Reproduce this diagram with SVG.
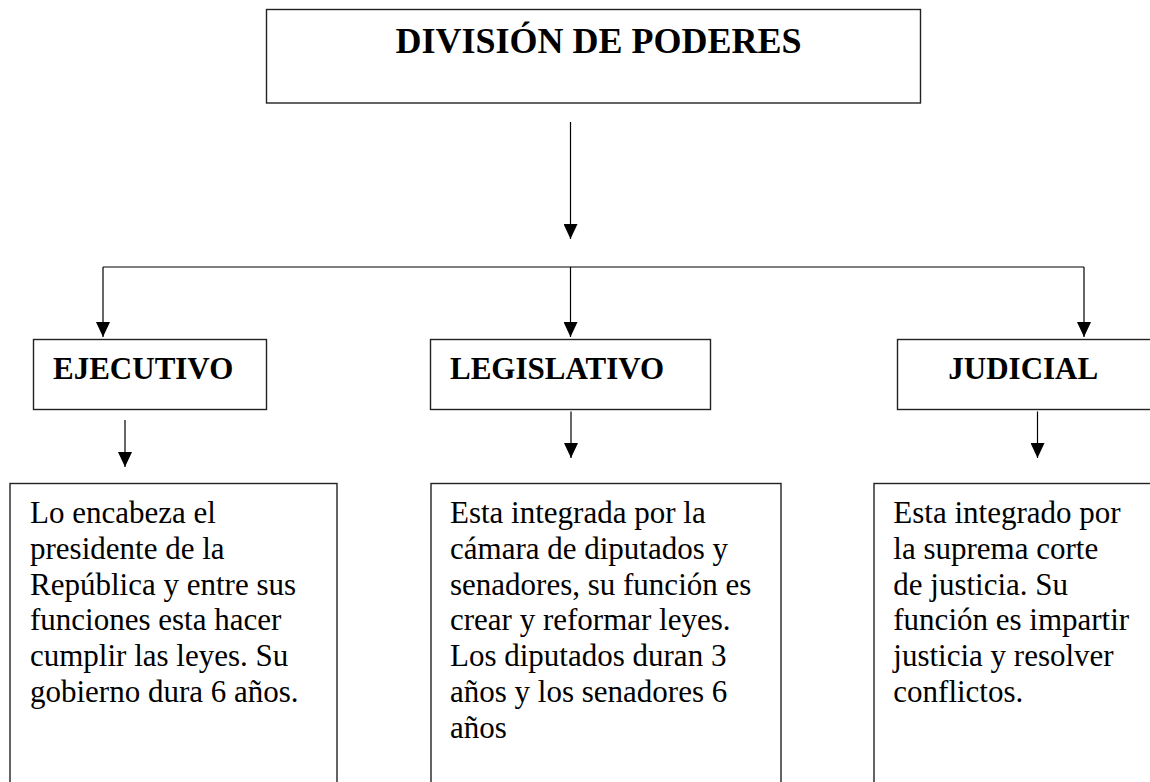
<svg xmlns="http://www.w3.org/2000/svg" width="1150" height="782" viewBox="0 0 1150 782">
  <style>
    .box { fill: #ffffff; stroke: #222222; stroke-width: 1.4; }
    .conn { stroke: #000000; stroke-width: 1.2; fill: none; }
    .title { font-family: "Liberation Serif", "Times New Roman", serif; font-weight: bold; font-size: 36px; fill: #000; }
    .label { font-family: "Liberation Serif", "Times New Roman", serif; font-weight: bold; font-size: 31px; fill: #000; }
    .body { font-family: "Liberation Serif", "Times New Roman", serif; font-size: 31px; fill: #000; }
  </style>
  <defs>
    <marker id="arrow" markerUnits="userSpaceOnUse" markerWidth="15" markerHeight="14" refX="15" refY="7" orient="auto">
      <path d="M0,0 L15,7 L0,14 z" fill="#000000"/>
    </marker>
  </defs>
  <rect x="0" y="0" width="1150" height="782" fill="#ffffff"/>

  <g id="connectors">
    <line class="conn" x1="570.5" y1="122" x2="570.5" y2="239" marker-end="url(#arrow)"/>
    <line class="conn" x1="103" y1="267" x2="1084" y2="267"/>
    <line class="conn" x1="103" y1="267" x2="103" y2="337" marker-end="url(#arrow)"/>
    <line class="conn" x1="570.5" y1="267" x2="570.5" y2="337" marker-end="url(#arrow)"/>
    <line class="conn" x1="1084" y1="267" x2="1084" y2="337" marker-end="url(#arrow)"/>
    <line class="conn" x1="125" y1="420" x2="125" y2="467" marker-end="url(#arrow)"/>
    <line class="conn" x1="571" y1="411.5" x2="571" y2="458" marker-end="url(#arrow)"/>
    <line class="conn" x1="1037.5" y1="411.5" x2="1037.5" y2="458" marker-end="url(#arrow)"/>
  </g>

  <g id="division">
    <rect class="box" x="266.5" y="9.5" width="654" height="93.5"/>
    <text class="title" x="395.5" y="53">DIVISIÓN DE PODERES</text>
  </g>

  <g id="ejecutivo">
    <rect class="box" x="33.5" y="339.5" width="233" height="70"/>
    <text class="label" x="53" y="379.3">EJECUTIVO</text>
  </g>

  <g id="legislativo">
    <rect class="box" x="430.5" y="339.5" width="280" height="70"/>
    <text class="label" x="450" y="379.3">LEGISLATIVO</text>
  </g>

  <g id="judicial">
    <rect class="box" x="897.5" y="339.5" width="270" height="70"/>
    <text class="label" x="948.3" y="379.3">JUDICIAL</text>
  </g>

  <g id="ejecutivo-desc">
    <rect class="box" x="10" y="483.5" width="327" height="320"/>
    <text class="body" x="30" y="523">
      <tspan x="30" y="523">Lo encabeza el</tspan>
      <tspan x="30" y="558.8">presidente de la</tspan>
      <tspan x="30" y="594.6">República y entre sus</tspan>
      <tspan x="30" y="630.4">funciones esta hacer</tspan>
      <tspan x="30" y="666.2">cumplir las leyes. Su</tspan>
      <tspan x="30" y="702">gobierno dura 6 años.</tspan>
    </text>
  </g>

  <g id="legislativo-desc">
    <rect class="box" x="431" y="483.5" width="350" height="320"/>
    <text class="body" x="450" y="523">
      <tspan x="450" y="523">Esta integrada por la</tspan>
      <tspan x="450" y="558.8">cámara de diputados y</tspan>
      <tspan x="450" y="594.6">senadores, su función es</tspan>
      <tspan x="450" y="630.4">crear y reformar leyes.</tspan>
      <tspan x="450" y="666.2">Los diputados duran 3</tspan>
      <tspan x="450" y="702">años y los senadores 6</tspan>
      <tspan x="450" y="737.8">años</tspan>
    </text>
  </g>

  <g id="judicial-desc">
    <rect class="box" x="874" y="483.5" width="300" height="320"/>
    <text class="body" x="893.3" y="523">
      <tspan x="893.3" y="523">Esta integrado por</tspan>
      <tspan x="893.3" y="558.8">la suprema corte</tspan>
      <tspan x="893.3" y="594.6">de justicia. Su</tspan>
      <tspan x="893.3" y="630.4">función es impartir</tspan>
      <tspan x="893.3" y="666.2">justicia y resolver</tspan>
      <tspan x="893.3" y="702">conflictos.</tspan>
    </text>
  </g>
</svg>
